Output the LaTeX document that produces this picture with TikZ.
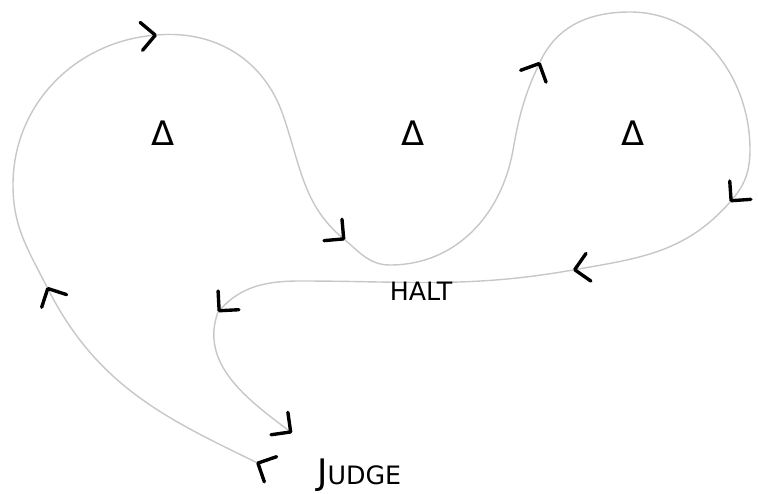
\documentclass[tikz,border=0pt]{standalone}
\usepackage{fontspec}
\setmainfont{DejaVu Sans}
\usetikzlibrary{arrows.meta,positioning}
\tikzset{every picture/.style={line width=0.75pt}}
\tikzset{
  trail/.style={draw=black!22, line width=1pt, line cap=round},
  glyph/.style={font=\fontsize{24}{28}\selectfont},
  word/.style={font=\fontsize{18}{22}\selectfont},
}

\begin{document}
\begin{tikzpicture}[x=0.025cm, y=0.025cm,
    >={Straight Barb[length=3.5mm, width=7mm, line width=2.4pt, round, color=black]}]
    \useasboundingbox (0,0) rectangle (758,494);
    % points on the loop
    \coordinate (a0) at (272,24);
    \coordinate (a1) at (47,207);
    \coordinate (l) at (13,309);
    \coordinate (a2) at (157,459);
    \coordinate (m) at (283,379);
    \coordinate (a3) at (345,254);
    \coordinate (b) at (390,229);
    \coordinate (w) at (513,344);
    \coordinate (a4) at (540,432);
    \coordinate (r1) at (630,482);
    \coordinate (r2) at (750,344);
    \coordinate (a5) at (730,292);
    \coordinate (a6) at (573,224);
    \coordinate (h) at (300,213);
    \coordinate (a7) at (218,182);
    \coordinate (a8) at (292,61);

    \draw[trail, >->] (a0) to[out=154, in=297] (a1);
    \draw[trail, ->] (a1) to[out=117, in=270] (l) to[out=90, in=185] (a2);
    \draw[trail, ->] (a2) to[out=5, in=109] (m) to[out=289, in=140] (a3);
    \draw[trail, ->] (a3) to[out=320, in=180] (b) to[out=0, in=260] (w) to[out=80, in=245] (a4);
    \draw[trail, ->] (a4) to[out=65, in=180] (r1) to[out=0, in=90] (r2) to[out=270, in=49] (a5);
    \draw[trail, ->] (a5) to[out=229, in=10] (a6);
    \draw[trail, ->] (a6) to[out=190, in=0] (h) to[out=180, in=48] (a7);
    \draw[trail, ->] (a7) to[out=250, in=143] (a8);

    \node[glyph] (d1) at (163,361) {Δ};
    \node[glyph] (d2) at (413,361) {Δ};
    \node[glyph] (d3) at (633,361) {Δ};
    \node[word] (halt) at (421,203) {HALT};
    \node[word, right=1cm of a0, yshift=-1.2mm] (judge) {{\fontsize{25}{28}\selectfont J}UDGE};
\end{tikzpicture}
\end{document}
